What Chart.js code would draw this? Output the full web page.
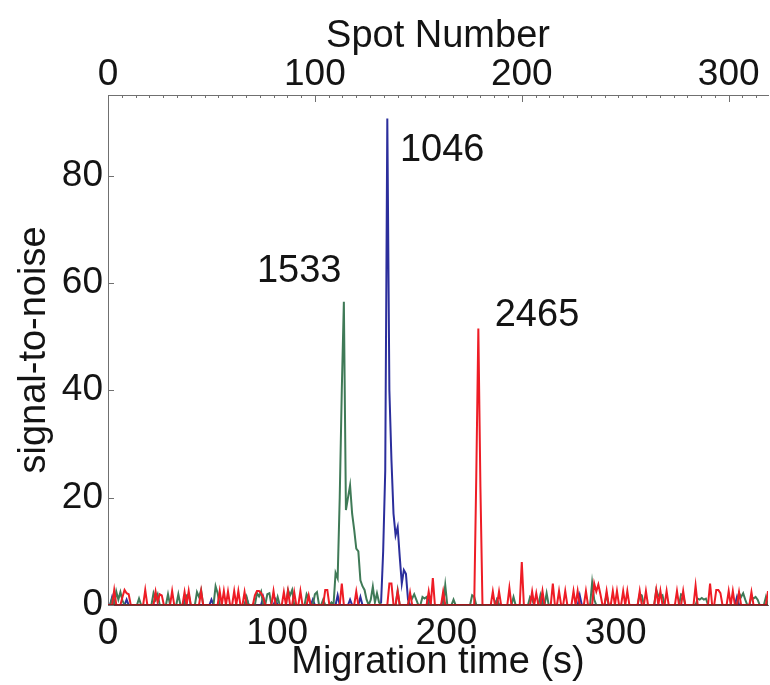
<!DOCTYPE html>
<html>
<head>
<meta charset="utf-8">
<script src="https://cdn.jsdelivr.net/npm/chart.js@4.4.0/dist/chart.umd.min.js"></script>
<style>
html,body{margin:0;padding:0;background:#fff;}
#wrap{width:770px;height:685px;}
</style>
</head>
<body>
<div id="wrap"><canvas id="c" width="770" height="685"></canvas></div>
<script>
// ---- data (index = spot number) ----
const red2465 = [
  0,0,0,2.8,0,0,0,1.5,2.8,2.2, 2.0,0,0,0,0,0,0,0,2.8,0,
  0,0,0,2.5,0.5,2.0,1.8,0,0,0, 0,2.6,0,0,0,0,0,2.4,0,2.6,
  0,0,0,0,0,2.6,0,0,0,0, 0,0,0,0,2.6,0,2.6,0,2.5,0,
  0,2.6,0,2.6,0,0,2.4,0,0,0, 0,1.8,2.6,2.6,2.2,1.5,0,0,0,0,
  2.6,0,0,0,0,2.4,0,2.6,0,0, 2.4,0,0,2.6,0,0,0,1.8,0,0,
  0,0,0,0,0,2.8,2.8,0,0,0, 0,0,0,4.0,0,0,0,0,0,0,
  2.5,0,0,0,0,0,0,0,0,0, 0,0,0,0,0,0,4.0,4.0,0,0,
  2.5,0,0,0,0,0,2.3,0,0,0, 0,0,0,0,0,2.5,0,5.0,0,0,
  0,0,2.5,0,0,0,0,0,0,0, 0,0,0,0,0,0,0,0,24,51.5,
  22,0,0,0,0,0,2.5,0,0,2.5, 0,0,0,0,3.2,0,0,0,0,0,
  8.0,0,0,0,0,2.5,0,2.2,0,0, 2.6,0,0,0,0,4.0,0,0,2.6,0,
  0,2.6,0,0,0,2.6,0,2.6,0,0, 0,2.6,0,0,0,4.0,2.5,3.8,2.0,0,
  0,2.6,0,0,2.6,0,2.6,0,0,2.6, 0,2.6,0,0,0,0,0,2.6,0,0,
  2.6,0,0,0,0,2.8,0,2.6,0,0, 2.6,0,0,0,0,2.6,0,0,2.6,0,
  0,0,0,0,3.6,0,0,0,0,0, 0,4.0,0,0,2.8,2.8,2.2,0,0,0,
  2.6,0,2.6,0,0,2.4,0,0,0,0, 0,2.4,0,0,0,0,0,0,0,2.6
];
const green1533 = [
  0,0,1.2,0,2.5,1.0,2.4,0.8,0,0, 0,0,0,0,0,1.2,0,0,0,0,
  0,0,2.2,1.0,2.0,0,0,0,0,2.0, 0,0,0,0,2.0,0,0,0,1.8,2.0,
  0,0,0,2.4,1.5,2.8,0,0,0,0, 0,0,3.5,2.2,0,0,0,0,0,0,
  0,0,0,0,0,0,0,1.5,0,0, 0,0,2.2,1.6,2.5,0,0,2.0,2.2,0,
  0,0,1.5,0,0,0,0,2.8,1.8,2.8, 0,0,0,0,0,0,2.0,1.2,0,0,
  2.0,2.4,0,0,1.0,0,0,0,0.5,0, 6.0,5.0,20,40,56.5,17.7,20,22.3,17,14,
  10.5,10,4.6,3.5,2.8,1.0,0,1.0,3.4,0.5, 2.2,0.5,0,0,0,0,0,0,0,0,
  2.7,0,0,0,0,0,1.8,1.2,2.0,1.0, 0,0,1.5,1.2,1.5,0,0,0,0,0,
  0,0,0,3.7,0,0,0,1.0,0,0, 0,0,0,0,0,0,1.8,1.5,0,0,
  0,0,0,0,0,0,0,0,1.0,0, 0,0,0,0,0,0,1.5,0,0,0,
  0,0,0,0,1.5,1.0,0,0,0,1.8, 0,0,2.2,0,0,0,0,0,0,0,
  0,0,0,0,0,0,0,0,0,0, 0,0,0,0,4.2,1.0,0,0,0,0,
  0,2.0,0,0,0,0,0,0,0,0, 0,0,0,0,0,0,0,2.0,1.8,0,
  0,0,0,0,0,2.8,1.7,1.5,1.8,0, 0,0,0,0,0,0,0,2.0,1.8,0,
  0,0,0,0,0,1.2,1.0,1.3,1.0,1.2, 0,0,0,0,0,0,0,0,0,0,
  0,0,0,0,0,2.2,1.5,2.2,1.0,0, 0,1.5,1.2,1.5,1.0,0,0,0,1.5,0
];
const blue1046 = [
  0,0,1.5,0,0,0,0,0,0,1.0, 0,0,0,0,0,0,0,0,0,0,
  0,0,0,0,0,0,0,0,0,0, 0,0,0,0,0,0,0,1.0,0,0,
  0,0,0,0,0,0,0,0,0,0, 1.0,0,0,0,0,0,0,0,0,0,
  0,0,0,0,0,0,0,1.2,0,0, 0,0,0,0,0,1.5,0,0,0,0,
  0,1.0,0,0,0,0,0,0,0,0, 0,0,0,0,0,0,0,0,0,1.0,
  0,0,0,0,0,0,0,0,0,0, 0,1.8,0,0,0,0,0,1.0,0,0,
  0,0,1.5,0,0,0,0,0,0,0, 0,0,0.5,10,25,90.6,40,27,17,13,
  14.5,9,4,6.5,5.8,1.0,0,0,0,0, 0,0,0,0,0,1.5,0,0,0,0,
  0,0,1.0,0,0,0,0,0,0,0, 0,0,0,0,0,0,0,0,0,0,
  0,0,0,0,0,0,0,0,1.0,0, 0,0,0,0,0,0,0,0,0,0,
  0,0,0,0,0,0,0,0,0,0, 1.0,0,0,0,0,0,0,0,0,0,
  0,0,0,0,0,0,0,0,1.8,0, 0,0,0,0,0,0,0,0,0,0,
  0,0,0,0,0,0,0,0,0,0, 0,0,0,0,0,0,0,0,0,0,
  0,0,0,0,0,0,0,0,0,0, 0,0,0,0,0,0,0,0,0,0,
  0,0,0,0,0,0,0,0,0,0, 0,0,0,0,0,0,0,0,0,0,
  0,0,0,0,1.5,0,0,0,0,0, 0,0,0,0,0,0,0,0,0,0
];
const seriesNames = ['2465', '1533', '1046'];
const timeTicks = [0, 100, 200, 300];      // Migration time (s)
const spotTicks = [0, 100, 200, 300];      // Spot Number
const snTicks = [0, 20, 40, 60, 80];       // signal-to-noise

// ---- layout / style (not data) ----
const FONT = "'Liberation Sans', Arial, Helvetica, sans-serif";
const TXT = '#141414';
const AXC = '#707070';
const labelPlacement = [ // peak labels, in (time s, s/n) units
  {text: '1533', t: 113, v: 62.2},
  {text: '1046', t: 197.5, v: 84.6},
  {text: '2465', t: 253.5, v: 54.0}
];

function pts(arr){ return arr.map((v,i)=>({x:i, y:v})); }

const innerTicks = {
  id: 'innerTicks',
  afterDatasetsDraw(chart){
    const {ctx, chartArea:a, scales} = chart;
    ctx.save();
    ctx.strokeStyle = 'rgba(110,22,22,0.85)';
    ctx.lineWidth = 1.5;
    ctx.beginPath(); ctx.moveTo(a.left, a.bottom); ctx.lineTo(a.right, a.bottom); ctx.stroke();
    ctx.strokeStyle = AXC; ctx.lineWidth = 1;
    snTicks.forEach(v=>{
      const py = Math.round(scales.y.getPixelForValue(v)) + 0.5;
      ctx.beginPath(); ctx.moveTo(a.left, py); ctx.lineTo(a.left+6, py); ctx.stroke();
    });
    spotTicks.forEach(v=>{
      const px = Math.round(scales.x2.getPixelForValue(v)) + 0.5;
      ctx.beginPath(); ctx.moveTo(px, a.top); ctx.lineTo(px, a.top+7); ctx.stroke();
    });
    const minorStep = 100/15;
    for (let k=1; k*minorStep <= scales.x2.max; k++){
      if (k % 15 === 0) continue;
      const px = Math.round(scales.x2.getPixelForValue(k*minorStep)) + 0.5;
      ctx.beginPath(); ctx.moveTo(px, a.top); ctx.lineTo(px, a.top+3); ctx.stroke();
    }
    ctx.fillStyle = TXT;
    ctx.font = '38px ' + FONT;
    ctx.textAlign = 'center';
    ctx.textBaseline = 'middle';
    labelPlacement.forEach(l=>{
      ctx.fillText(l.text, scales.x.getPixelForValue(l.t), scales.y.getPixelForValue(l.v));
    });
    ctx.restore();
  }
};

const tickFont = {family: FONT, size: 37};
const titleFont = {family: FONT, size: 38};

new Chart(document.getElementById('c'), {
  type: 'line',
  data: {
    datasets: [
      {label: seriesNames[0], data: pts(red2465), borderColor: '#EE1C25', xAxisID: 'x2', yAxisID: 'y'},
      {label: seriesNames[1], data: pts(green1533), borderColor: '#3F7A57', xAxisID: 'x2', yAxisID: 'y'},
      {label: seriesNames[2], data: pts(blue1046), borderColor: '#2B2E9C', xAxisID: 'x2', yAxisID: 'y'}
    ]
  },
  options: {
    responsive: false,
    animation: false,
    devicePixelRatio: 1,
    layout: {padding: {left: 0, right: 2, top: 0, bottom: 0}},
    elements: {
      line: {borderWidth: 2, tension: 0, fill: false},
      point: {radius: 0}
    },
    plugins: {legend: {display: false}, tooltip: {enabled: false}},
    scales: {
      x: {
        type: 'linear', position: 'bottom', min: 0, max: 390,
        afterBuildTicks(s){ s.ticks = timeTicks.map(v=>({value:v})); },
        ticks: {font: tickFont, color: TXT, padding: 7, maxRotation: 0, autoSkip: false},
        grid: {display: false, drawTicks: false},
        border: {display: true, color: AXC},
        title: {display: true, text: 'Migration time (s)', font: titleFont, color: TXT, padding: {top: 0, bottom: 0}},
        afterFit(s){ s.height = 80; }
      },
      x2: {
        type: 'linear', position: 'top', min: 0, max: 319,
        afterBuildTicks(s){ s.ticks = spotTicks.map(v=>({value:v})); },
        ticks: {font: tickFont, color: TXT, padding: -2, maxRotation: 0, autoSkip: false},
        grid: {display: false, drawTicks: false},
        border: {display: true, color: AXC},
        title: {display: true, text: 'Spot Number', font: titleFont, color: TXT, padding: {top: 14, bottom: 0}},
        afterFit(s){ s.height = 95; }
      },
      y: {
        type: 'linear', position: 'left', min: 0, max: 95,
        afterBuildTicks(s){ s.ticks = snTicks.map(v=>({value:v})); },
        ticks: {font: tickFont, color: TXT, padding: 5, autoSkip: false},
        grid: {display: false, drawTicks: false},
        border: {display: true, color: AXC},
        title: {display: true, text: 'signal-to-noise', font: titleFont, color: TXT, padding: {top: 12, bottom: 0}},
        afterFit(s){ s.width = 108; }
      }
    }
  },
  plugins: [innerTicks]
});
</script>
</body>
</html>
